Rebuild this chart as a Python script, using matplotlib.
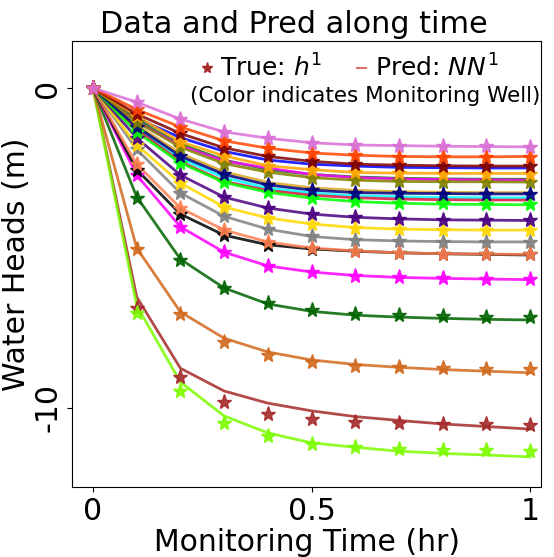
import matplotlib
matplotlib.use("Agg")
import matplotlib.pyplot as plt
from matplotlib.lines import Line2D

plt.rcParams['font.family'] = ['DejaVu Sans']
plt.rcParams['axes.unicode_minus'] = False

# Monitoring times (hr)
time = [0, 0.1, 0.2, 0.3, 0.4, 0.5, 0.6, 0.7, 0.8, 0.9, 1.0]

# Wells drawn only as prediction lines (their stars sit under other stars)
hidden_colors = ['blue', 'green', 'fuchsia', 'goldenrod', 'cyan', 'crimson']
nn_blue = [0, -0.95, -1.55, -1.98, -2.25, -2.38, -2.44, -2.48, -2.49, -2.50, -2.50]
nn_green = [0, -1.00, -1.75, -2.25, -2.55, -2.70, -2.78, -2.82, -2.84, -2.85, -2.85]
nn_fuchsia = [0, -1.05, -1.80, -2.28, -2.50, -2.70, -2.80, -2.84, -2.86, -2.87, -2.88]
nn_goldenrod = [0, -1.15, -2.05, -2.62, -2.95, -3.12, -3.20, -3.24, -3.26, -3.27, -3.27]
nn_cyan = [0, -1.25, -2.20, -2.80, -3.13, -3.28, -3.37, -3.40, -3.42, -3.43, -3.43]
nn_crimson = [0, -1.30, -2.30, -2.92, -3.20, -3.35, -3.43, -3.47, -3.49, -3.50, -3.50]
hidden_pred = [nn_blue, nn_green, nn_fuchsia, nn_goldenrod, nn_cyan, nn_crimson]

# Wells with visible true values (h) and predictions (NN)
well_colors = ['brown', 'lawngreen', 'chocolate', 'darkgreen', 'magenta', 'black', 'coral',
               'gray', 'gold', 'indigo', 'lime', 'navy', 'olive', 'orange', 'maroon',
               'orangered', 'orchid']
h_brown = [0, -6.88, -9.03, -9.82, -10.18, -10.34, -10.43, -10.48, -10.51, -10.51, -10.54]
h_lawngreen = [0, -7.04, -9.47, -10.47, -10.88, -11.12, -11.22, -11.28, -11.30, -11.31, -11.34]
h_chocolate = [0, -5.03, -7.06, -7.94, -8.34, -8.56, -8.68, -8.73, -8.76, -8.77, -8.78]
h_darkgreen = [0, -3.44, -5.38, -6.25, -6.72, -6.94, -7.06, -7.11, -7.14, -7.16, -7.17]
h_magenta = [0, -2.72, -4.34, -5.13, -5.56, -5.75, -5.86, -5.92, -5.95, -5.96, -5.97]
h_black = [0, -2.55, -3.94, -4.60, -4.90, -5.03, -5.10, -5.15, -5.18, -5.19, -5.20]
h_coral = [0, -2.38, -3.75, -4.44, -4.81, -5.00, -5.09, -5.15, -5.18, -5.19, -5.20]
h_gray = [0, -1.92, -3.28, -4.01, -4.41, -4.64, -4.74, -4.78, -4.80, -4.81, -4.81]
h_gold = [0, -1.78, -2.97, -3.72, -4.06, -4.25, -4.36, -4.41, -4.43, -4.44, -4.44]
h_indigo = [0, -1.56, -2.72, -3.41, -3.75, -3.94, -4.04, -4.09, -4.12, -4.13, -4.14]
h_lime = [0, -1.38, -2.34, -2.95, -3.26, -3.44, -3.53, -3.58, -3.60, -3.61, -3.62]
h_navy = [0, -1.21, -2.13, -2.70, -3.03, -3.19, -3.27, -3.29, -3.30, -3.31, -3.31]
h_olive = [0, -1.05, -1.85, -2.36, -2.63, -2.80, -2.88, -2.92, -2.93, -2.93, -2.94]
h_orange = [0, -0.88, -1.68, -2.12, -2.43, -2.55, -2.64, -2.67, -2.69, -2.70, -2.70]
h_maroon = [0, -0.81, -1.42, -1.87, -2.14, -2.29, -2.38, -2.41, -2.43, -2.44, -2.44]
h_orangered = [0, -0.67, -1.22, -1.65, -1.88, -2.03, -2.10, -2.15, -2.17, -2.17, -2.16]
h_orchid = [0, -0.44, -0.97, -1.37, -1.57, -1.71, -1.78, -1.80, -1.81, -1.82, -1.83]

nn_brown = [0, -6.53, -8.76, -9.47, -9.85, -10.09, -10.27, -10.39, -10.50, -10.58, -10.66]
nn_lawngreen = [0, -6.80, -9.19, -10.25, -10.78, -11.09, -11.23, -11.35, -11.42, -11.47, -11.53]
nn_chocolate = [0, -5.00, -7.00, -7.82, -8.25, -8.50, -8.64, -8.73, -8.80, -8.85, -8.90]
nn_darkgreen = [0, -3.40, -5.35, -6.25, -6.75, -6.98, -7.10, -7.16, -7.20, -7.23, -7.25]
nn_magenta = [0, -2.72, -4.34, -5.13, -5.56, -5.75, -5.86, -5.92, -5.95, -5.97, -5.99]
nn_black = [0, -2.55, -3.94, -4.60, -4.90, -5.03, -5.10, -5.15, -5.18, -5.20, -5.22]
nn_coral = [0, -2.38, -3.75, -4.44, -4.81, -5.00, -5.09, -5.15, -5.18, -5.19, -5.20]
nn_gray = [0, -1.92, -3.28, -4.01, -4.41, -4.64, -4.74, -4.78, -4.80, -4.81, -4.81]
nn_gold = [0, -1.78, -2.97, -3.72, -4.06, -4.25, -4.36, -4.41, -4.43, -4.44, -4.44]
nn_indigo = [0, -1.56, -2.72, -3.41, -3.75, -3.94, -4.04, -4.09, -4.12, -4.13, -4.14]
nn_lime = [0, -1.38, -2.34, -2.95, -3.26, -3.44, -3.55, -3.60, -3.63, -3.64, -3.65]
nn_navy = [0, -1.21, -2.13, -2.70, -3.03, -3.19, -3.27, -3.29, -3.30, -3.31, -3.31]
nn_olive = [0, -1.05, -1.85, -2.36, -2.63, -2.80, -2.88, -2.92, -2.93, -2.93, -2.94]
nn_orange = [0, -0.88, -1.68, -2.12, -2.43, -2.55, -2.64, -2.66, -2.67, -2.67, -2.67]
nn_maroon = [0, -0.81, -1.42, -1.87, -2.14, -2.29, -2.38, -2.41, -2.43, -2.44, -2.44]
nn_orangered = [0, -0.67, -1.22, -1.65, -1.88, -2.03, -2.10, -2.14, -2.15, -2.15, -2.14]
nn_orchid = [0, -0.44, -0.97, -1.37, -1.57, -1.71, -1.78, -1.80, -1.82, -1.83, -1.84]

true_heads = [h_brown, h_lawngreen, h_chocolate, h_darkgreen, h_magenta, h_black, h_coral,
              h_gray, h_gold, h_indigo, h_lime, h_navy, h_olive, h_orange, h_maroon,
              h_orangered, h_orchid]
pred_heads = [nn_brown, nn_lawngreen, nn_chocolate, nn_darkgreen, nn_magenta, nn_black, nn_coral,
              nn_gray, nn_gold, nn_indigo, nn_lime, nn_navy, nn_olive, nn_orange, nn_maroon,
              nn_orangered, nn_orchid]

fig = plt.figure(figsize=(5.54, 5.57), dpi=100)
ax = fig.add_axes([0.130, 0.1257, 0.8465, 0.8007])

# Prediction lines
for c, p in zip(hidden_colors, hidden_pred):
    ax.plot(time, p, color=c, linewidth=2, alpha=0.85)
for c, p in zip(well_colors, pred_heads):
    ax.plot(time, p, color=c, linewidth=2, alpha=0.85)

# True heads as stars
for c, h in zip(well_colors, true_heads):
    ax.plot(time, h, linestyle='None', marker='*', markersize=11, color=c, alpha=0.9)

ax.set_xlim(-0.048, 1.025)
ax.set_ylim(-12.47, 1.47)
ax.set_xticks([0, 0.5, 1])
ax.set_xticklabels(['0', '0.5', '1'])
ax.set_yticks([0, -10])
ax.set_yticklabels(['0', '-10'], rotation=90, va='center')
ax.tick_params(labelsize=21.5)

ax.set_xlabel('Monitoring Time (hr)', fontsize=21.5, labelpad=2)
ax.set_ylabel('Water Heads (m)', fontsize=21.5, labelpad=2)
ax.set_title('Data and Pred along time', fontsize=21.8, x=0.474)

handles = [Line2D([], [], linestyle='None', marker='*', markersize=8, color='brown'),
           Line2D([], [], linestyle='-', linewidth=1.5, color='#e07070')]
ax.legend(handles, ['True: $h^1$', 'Pred: $NN^1$'], ncol=2, frameon=False,
          fontsize=18, loc='center', bbox_to_anchor=(0.594, 0.939),
          handlelength=0.36, handletextpad=0.35, columnspacing=1.4)
ax.text(0.626, 0.877, '(Color indicates Monitoring Well)', transform=ax.transAxes,
        fontsize=15.5, ha='center', va='center')

plt.savefig('out.png', dpi=100)
plt.close()
